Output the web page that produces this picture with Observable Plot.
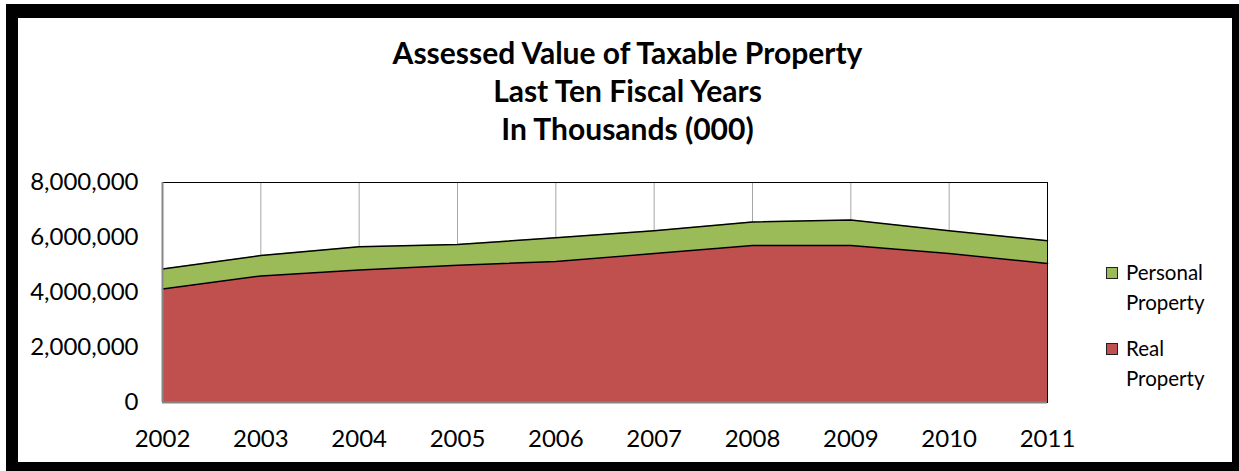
<!DOCTYPE html>
<html>
<head>
<meta charset="utf-8">
<script src="https://cdn.jsdelivr.net/npm/d3@7"></script>
<script src="https://cdn.jsdelivr.net/npm/@observablehq/plot@0.6"></script>
<style>
  html, body { margin: 0; padding: 0; background: #fff; overflow: hidden; }
  #wrap { position: relative; width: 1239px; height: 471px; overflow: hidden; font-family: Lato, "Open Sans", sans-serif; }
  .bar { position: absolute; background: #000; z-index: 3; }
  #title { position: absolute; left: 0; width: 1255px; top: 33px; text-align: center; font-weight: 700; font-size: 30px; line-height: 38px; color: #000; z-index: 2; }
  #chart { position: absolute; left: 0; top: 0; z-index: 1; }
  .leg { position: absolute; left: 1106px; font-size: 20.5px; line-height: 30px; color: #000; z-index: 2; }
  .leg .sw { position: absolute; left: 0; top: 10px; width: 10px; height: 10px; border: 1px solid #222; }
  .leg .tx { position: absolute; left: 20px; top: 0; white-space: nowrap; }
</style>
</head>
<body>
<div id="wrap">
  <div id="title">Assessed Value of Taxable Property<br>Last Ten Fiscal Years<br>In Thousands (000)</div>
  <div id="chart"></div>
  <div id="legend"></div>
  <div class="bar" style="left:6px;top:4px;width:1233px;height:14px"></div>
  <div class="bar" style="left:6px;top:4px;width:12px;height:467px"></div>
  <div class="bar" style="left:1232px;top:4px;width:7px;height:467px"></div>
  <div class="bar" style="left:6px;top:462px;width:1233px;height:9px"></div>
</div>
<script>
const years = [2002, 2003, 2004, 2005, 2006, 2007, 2008, 2009, 2010, 2011];
const realProperty = [4128000, 4603000, 4822000, 4994000, 5125000, 5414000, 5710000, 5710000, 5417000, 5052000];
const personalProperty = [730000, 741000, 840000, 752000, 866000, 833000, 854000, 927000, 830000, 829000];
const seriesNames = ["Real Property", "Personal Property"];
const seriesColors = ["#C0504D", "#9BBB59"];
const yTicks = [0, 2000000, 4000000, 6000000, 8000000];

const data = [];
years.forEach((yr, i) => {
  data.push({year: yr, type: seriesNames[0], value: realProperty[i]});
  data.push({year: yr, type: seriesNames[1], value: personalProperty[i]});
});

const chart = Plot.plot({
  width: 1239,
  height: 471,
  marginLeft: 162,
  marginRight: 192,
  marginTop: 182,
  marginBottom: 69,
  style: {fontFamily: "Lato, 'Open Sans', sans-serif", background: "transparent", overflow: "visible"},
  x: {domain: [2002, 2011], label: null},
  y: {domain: [0, 8000000], label: null},
  color: {domain: seriesNames, range: seriesColors},
  marks: [
    Plot.ruleX(years, {stroke: "#a6a6a6", strokeWidth: 1}),
    Plot.areaY(data, {x: "year", y: "value", z: "type", fill: "type", order: seriesNames, fillOpacity: 1}),
    Plot.lineY(data, Plot.stackY2({x: "year", y: "value", z: "type", order: seriesNames, stroke: "#000", strokeWidth: 1.5})),
    Plot.frame({stroke: "#000", strokeWidth: 1}),
    Plot.ruleX([2002], {stroke: "#868686", strokeWidth: 2}),
    Plot.ruleY([0], {stroke: "#868686", strokeWidth: 2}),
    Plot.axisX({ticks: years, tickFormat: d => String(d), tickSize: 0, tickPadding: 27, fontSize: 24, label: null}),
    Plot.axisY({ticks: yTicks, tickFormat: d3.format(","), tickSize: 0, tickPadding: 24, fontSize: 24, label: null})
  ]
});
document.getElementById("chart").appendChild(chart);

const legendItems = [
  {name: "Personal Property", lines: ["Personal", "Property"], color: seriesColors[1], top: 257},
  {name: "Real Property", lines: ["Real", "Property"], color: seriesColors[0], top: 333}
];
const leg = document.getElementById("legend");
legendItems.forEach(it => {
  const d = document.createElement("div");
  d.className = "leg";
  d.style.top = it.top + "px";
  d.innerHTML = `<div class="sw" style="background:${it.color}"></div><div class="tx">${it.lines.join("<br>")}</div>`;
  leg.appendChild(d);
});
</script>
</body>
</html>
